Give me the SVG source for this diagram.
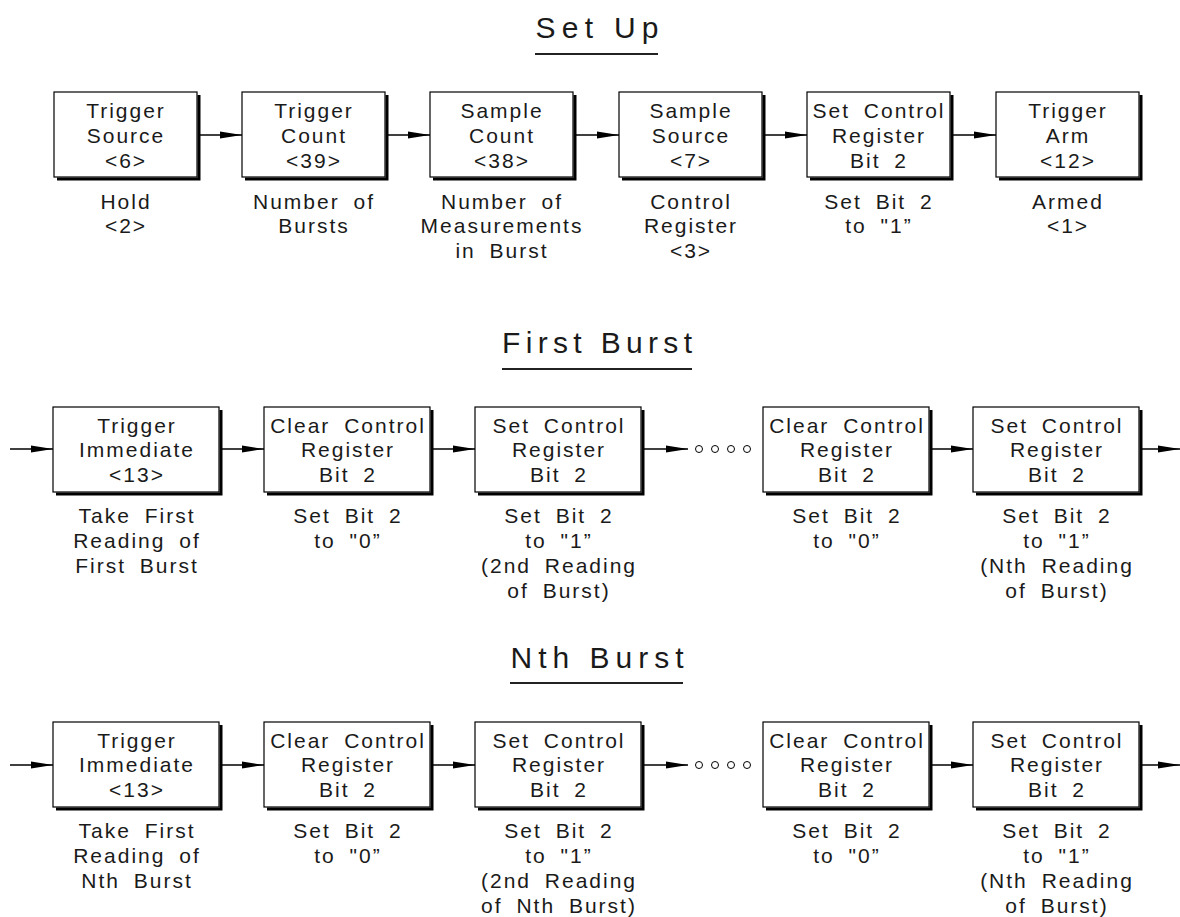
<svg xmlns="http://www.w3.org/2000/svg" width="1180" height="917" viewBox="0 0 1180 917">
<style>
  text { font-family: "Liberation Sans", Arial, sans-serif; fill: #1a1a1a; }
  .t { font-size: 21px; letter-spacing: 2px; word-spacing: 6px; text-anchor: middle; }
  .title { font-size: 30px; text-anchor: middle; }
  .box { fill: #fff; stroke: #000; stroke-width: 1.2; }
  .shadow { fill: none; stroke: #000; stroke-width: 3; }
  .conn { fill: none; stroke: #000; stroke-width: 1.5; marker-end: url(#arr); }
  .uline { stroke: #222; stroke-width: 2; }
  .dot { fill: #fff; stroke: #000; stroke-width: 1; }
</style>
<defs>
  <marker id="arr" markerUnits="userSpaceOnUse" markerWidth="22" markerHeight="8" refX="22" refY="4" orient="auto">
    <path d="M0,0.5 L22,4 L0,7.5 Z" fill="#000"/>
  </marker>
</defs>
<rect width="1180" height="917" fill="#fff"/>

<!-- Titles -->
<g id="title-setup">
  <text class="title" x="597" y="38" textLength="123" lengthAdjust="spacing">Set Up</text>
  <line class="uline" x1="535" y1="54" x2="658" y2="54"/>
</g>
<g id="title-first">
  <text class="title" x="597" y="353" textLength="190" lengthAdjust="spacing">First Burst</text>
  <line class="uline" x1="502" y1="369" x2="692" y2="369"/>
</g>
<g id="title-nth">
  <text class="title" x="597" y="668" textLength="173" lengthAdjust="spacing">Nth Burst</text>
  <line class="uline" x1="510" y1="683" x2="683" y2="683"/>
</g>

<!-- Connectors -->
<g id="connectors">
  <!-- Set Up -->
  <line class="conn" x1="200" y1="135" x2="242" y2="135"/>
  <line class="conn" x1="388" y1="135" x2="430" y2="135"/>
  <line class="conn" x1="576" y1="135" x2="619" y2="135"/>
  <line class="conn" x1="765" y1="135" x2="807" y2="135"/>
  <line class="conn" x1="953" y1="135" x2="996" y2="135"/>
  <!-- First Burst -->
  <line class="conn" x1="10" y1="449" x2="53" y2="449"/>
  <line class="conn" x1="222" y1="449" x2="264" y2="449"/>
  <line class="conn" x1="433" y1="449" x2="475" y2="449"/>
  <line class="conn" x1="644" y1="449" x2="688" y2="449"/>
  <line class="conn" x1="932" y1="449" x2="973" y2="449"/>
  <line class="conn" x1="1142" y1="449" x2="1180" y2="449"/>
  <circle class="dot" cx="699" cy="449" r="3.5"/>
  <circle class="dot" cx="715" cy="449" r="3.5"/>
  <circle class="dot" cx="731" cy="449" r="3.5"/>
  <circle class="dot" cx="747" cy="449" r="3.5"/>
  <!-- Nth Burst -->
  <line class="conn" x1="10" y1="765" x2="53" y2="765"/>
  <line class="conn" x1="222" y1="765" x2="264" y2="765"/>
  <line class="conn" x1="433" y1="765" x2="475" y2="765"/>
  <line class="conn" x1="644" y1="765" x2="688" y2="765"/>
  <line class="conn" x1="932" y1="765" x2="973" y2="765"/>
  <line class="conn" x1="1142" y1="765" x2="1180" y2="765"/>
  <circle class="dot" cx="699" cy="765" r="3.5"/>
  <circle class="dot" cx="715" cy="765" r="3.5"/>
  <circle class="dot" cx="731" cy="765" r="3.5"/>
  <circle class="dot" cx="747" cy="765" r="3.5"/>
</g>

<!-- Set Up row -->
<g id="s1">
  <path class="shadow" d="M199,95 V179 H57"/>
  <rect class="box" x="54" y="92" width="143" height="85"/>
  <text class="t" x="126" y="118">Trigger</text>
  <text class="t" x="126" y="143">Source</text>
  <text class="t" x="126" y="168">&lt;6&gt;</text>
  <text class="t" x="126" y="209">Hold</text>
  <text class="t" x="126" y="233">&lt;2&gt;</text>
</g>
<g id="s2">
  <path class="shadow" d="M387,95 V179 H245"/>
  <rect class="box" x="242" y="92" width="143" height="85"/>
  <text class="t" x="314" y="118">Trigger</text>
  <text class="t" x="314" y="143">Count</text>
  <text class="t" x="314" y="168">&lt;39&gt;</text>
  <text class="t" x="314" y="209">Number of</text>
  <text class="t" x="314" y="233">Bursts</text>
</g>
<g id="s3">
  <path class="shadow" d="M575,95 V179 H433"/>
  <rect class="box" x="430" y="92" width="143" height="85"/>
  <text class="t" x="502" y="118">Sample</text>
  <text class="t" x="502" y="143">Count</text>
  <text class="t" x="502" y="168">&lt;38&gt;</text>
  <text class="t" x="502" y="209">Number of</text>
  <text class="t" x="502" y="233">Measurements</text>
  <text class="t" x="502" y="258">in Burst</text>
</g>
<g id="s4">
  <path class="shadow" d="M764,95 V179 H622"/>
  <rect class="box" x="619" y="92" width="143" height="85"/>
  <text class="t" x="691" y="118">Sample</text>
  <text class="t" x="691" y="143">Source</text>
  <text class="t" x="691" y="168">&lt;7&gt;</text>
  <text class="t" x="691" y="209">Control</text>
  <text class="t" x="691" y="233">Register</text>
  <text class="t" x="691" y="258">&lt;3&gt;</text>
</g>
<g id="s5">
  <path class="shadow" d="M952,95 V179 H810"/>
  <rect class="box" x="807" y="92" width="143" height="85"/>
  <text class="t" x="879" y="118">Set Control</text>
  <text class="t" x="879" y="143">Register</text>
  <text class="t" x="879" y="168">Bit 2</text>
  <text class="t" x="879" y="209">Set Bit 2</text>
  <text class="t" x="879" y="233">to "1”</text>
</g>
<g id="s6">
  <path class="shadow" d="M1141,95 V179 H999"/>
  <rect class="box" x="996" y="92" width="143" height="85"/>
  <text class="t" x="1068" y="118">Trigger</text>
  <text class="t" x="1068" y="143">Arm</text>
  <text class="t" x="1068" y="168">&lt;12&gt;</text>
  <text class="t" x="1068" y="209">Armed</text>
  <text class="t" x="1068" y="233">&lt;1&gt;</text>
</g>

<!-- First Burst row -->
<g id="f1">
  <path class="shadow" d="M221,410 V494 H56"/>
  <rect class="box" x="53" y="407" width="166" height="85"/>
  <text class="t" x="137" y="433">Trigger</text>
  <text class="t" x="137" y="457">Immediate</text>
  <text class="t" x="137" y="482">&lt;13&gt;</text>
  <text class="t" x="137" y="523">Take First</text>
  <text class="t" x="137" y="548">Reading of</text>
  <text class="t" x="137" y="573">First Burst</text>
</g>
<g id="f2">
  <path class="shadow" d="M432,410 V494 H267"/>
  <rect class="box" x="264" y="407" width="166" height="85"/>
  <text class="t" x="348" y="433">Clear Control</text>
  <text class="t" x="348" y="457">Register</text>
  <text class="t" x="348" y="482">Bit 2</text>
  <text class="t" x="348" y="523">Set Bit 2</text>
  <text class="t" x="348" y="548">to "0”</text>
</g>
<g id="f3">
  <path class="shadow" d="M643,410 V494 H478"/>
  <rect class="box" x="475" y="407" width="166" height="85"/>
  <text class="t" x="559" y="433">Set Control</text>
  <text class="t" x="559" y="457">Register</text>
  <text class="t" x="559" y="482">Bit 2</text>
  <text class="t" x="559" y="523">Set Bit 2</text>
  <text class="t" x="559" y="548">to "1”</text>
  <text class="t" x="559" y="573">(2nd Reading</text>
  <text class="t" x="559" y="598">of Burst)</text>
</g>
<g id="f4">
  <path class="shadow" d="M931,410 V494 H766"/>
  <rect class="box" x="763" y="407" width="166" height="85"/>
  <text class="t" x="847" y="433">Clear Control</text>
  <text class="t" x="847" y="457">Register</text>
  <text class="t" x="847" y="482">Bit 2</text>
  <text class="t" x="847" y="523">Set Bit 2</text>
  <text class="t" x="847" y="548">to "0”</text>
</g>
<g id="f5">
  <path class="shadow" d="M1141,410 V494 H976"/>
  <rect class="box" x="973" y="407" width="166" height="85"/>
  <text class="t" x="1057" y="433">Set Control</text>
  <text class="t" x="1057" y="457">Register</text>
  <text class="t" x="1057" y="482">Bit 2</text>
  <text class="t" x="1057" y="523">Set Bit 2</text>
  <text class="t" x="1057" y="548">to "1”</text>
  <text class="t" x="1057" y="573">(Nth Reading</text>
  <text class="t" x="1057" y="598">of Burst)</text>
</g>

<!-- Nth Burst row -->
<g id="n1">
  <path class="shadow" d="M221,725 V809 H56"/>
  <rect class="box" x="53" y="722" width="166" height="85"/>
  <text class="t" x="137" y="748">Trigger</text>
  <text class="t" x="137" y="772">Immediate</text>
  <text class="t" x="137" y="797">&lt;13&gt;</text>
  <text class="t" x="137" y="838">Take First</text>
  <text class="t" x="137" y="863">Reading of</text>
  <text class="t" x="137" y="888">Nth Burst</text>
</g>
<g id="n2">
  <path class="shadow" d="M432,725 V809 H267"/>
  <rect class="box" x="264" y="722" width="166" height="85"/>
  <text class="t" x="348" y="748">Clear Control</text>
  <text class="t" x="348" y="772">Register</text>
  <text class="t" x="348" y="797">Bit 2</text>
  <text class="t" x="348" y="838">Set Bit 2</text>
  <text class="t" x="348" y="863">to "0”</text>
</g>
<g id="n3">
  <path class="shadow" d="M643,725 V809 H478"/>
  <rect class="box" x="475" y="722" width="166" height="85"/>
  <text class="t" x="559" y="748">Set Control</text>
  <text class="t" x="559" y="772">Register</text>
  <text class="t" x="559" y="797">Bit 2</text>
  <text class="t" x="559" y="838">Set Bit 2</text>
  <text class="t" x="559" y="863">to "1”</text>
  <text class="t" x="559" y="888">(2nd Reading</text>
  <text class="t" x="559" y="913">of Nth Burst)</text>
</g>
<g id="n4">
  <path class="shadow" d="M931,725 V809 H766"/>
  <rect class="box" x="763" y="722" width="166" height="85"/>
  <text class="t" x="847" y="748">Clear Control</text>
  <text class="t" x="847" y="772">Register</text>
  <text class="t" x="847" y="797">Bit 2</text>
  <text class="t" x="847" y="838">Set Bit 2</text>
  <text class="t" x="847" y="863">to "0”</text>
</g>
<g id="n5">
  <path class="shadow" d="M1141,725 V809 H976"/>
  <rect class="box" x="973" y="722" width="166" height="85"/>
  <text class="t" x="1057" y="748">Set Control</text>
  <text class="t" x="1057" y="772">Register</text>
  <text class="t" x="1057" y="797">Bit 2</text>
  <text class="t" x="1057" y="838">Set Bit 2</text>
  <text class="t" x="1057" y="863">to "1”</text>
  <text class="t" x="1057" y="888">(Nth Reading</text>
  <text class="t" x="1057" y="913">of Burst)</text>
</g>
</svg>
